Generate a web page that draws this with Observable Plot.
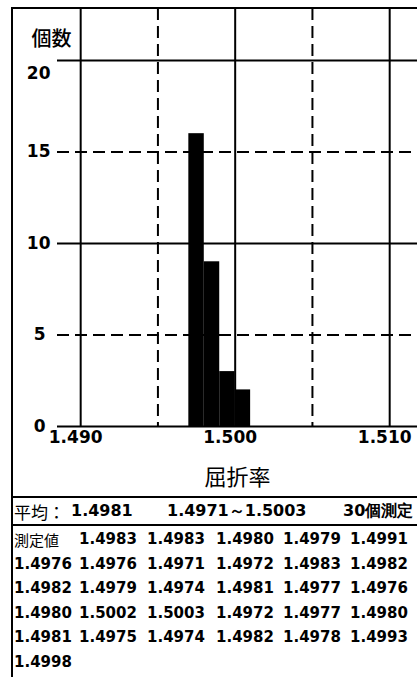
<!DOCTYPE html>
<html><head><meta charset="utf-8">
<script src="https://cdn.jsdelivr.net/npm/d3@7"></script>
<script src="https://cdn.jsdelivr.net/npm/@observablehq/plot@0.6"></script>
<style>
body{margin:0;background:#fff;}
#wrap{position:relative;width:417px;height:677px;overflow:hidden;background:#fff;}
#frame{position:absolute;left:11px;top:7px;width:430px;height:700px;border-left:2px solid #000;border-top:2px solid #000;}
#chart{position:absolute;left:0;top:0;}
.hline{position:absolute;left:12px;width:410px;height:2px;background:#000;}
.t{position:absolute;white-space:nowrap;line-height:1;color:#000;transform:translateY(-50%);}
.num{font-family:"DejaVu Sans";font-weight:bold;font-size:15px;}
.cjk{font-family:"Noto Sans CJK JP";font-size:15px;}
</style></head>
<body><div id="wrap"><div id="frame"></div><div id="chart"></div>
<div class="hline" style="top:496px"></div>
<div class="hline" style="top:524px"></div>
</div>
<script>
// ---- data ----
const yTicksLow = [0, 5];
const yTicksMid = [10, 15];
const yTickTop = [20];
const solidY = [0, 10, 20];
const dashedY = [5, 15];
const xTicks = [1.490, 1.500, 1.510];
const dashedX = [1.495, 1.505];
const binStart = [1.497, 1.498, 1.499, 1.500];
const binEnd = [1.498, 1.499, 1.500, 1.501];
const counts = [16, 9, 3, 2];
const yLabel = "個数";
const xLabel = "屈折率";
const meanLabel = "平均：";
const meanValue = "1.4981";
const rangeText = "1.4971～1.5003";
const countText = "30個測定";
const measuredLabel = "測定値";
const measured = [
  "1.4983","1.4983","1.4980","1.4979","1.4991",
  "1.4976","1.4976","1.4971","1.4972","1.4983","1.4982",
  "1.4982","1.4979","1.4974","1.4981","1.4977","1.4976",
  "1.4980","1.5002","1.5003","1.4972","1.4977","1.4980",
  "1.4981","1.4975","1.4974","1.4982","1.4978","1.4993",
  "1.4998"
];

const bars = counts.map((c, i) => ({x1: binStart[i], x2: binEnd[i], y: c}));
const dash = "12,6";

const chart = Plot.plot({
  width: 417, height: 500,
  marginLeft: 57, marginRight: 0, marginTop: 8, marginBottom: 74,
  x: {domain: [1.4885, 1.5118]},
  y: {domain: [0, 22.84]},
  style: {fontFamily: "DejaVu Sans", fontWeight: "bold", fontSize: "17px", color: "#000", background: "transparent", overflow: "visible"},
  marks: [
    Plot.ruleX(dashedX, {stroke: "#000", strokeWidth: 2, strokeDasharray: dash}),
    Plot.ruleY(dashedY, {stroke: "#000", strokeWidth: 2, strokeDasharray: dash}),
    Plot.ruleX(xTicks, {stroke: "#000", strokeWidth: 2}),
    Plot.ruleY(solidY, {stroke: "#000", strokeWidth: 2}),
    Plot.rectY(bars, {x1: "x1", x2: "x2", y: "y", fill: "#000", inset: 0}),
    Plot.axisX(xTicks, {tickSize: 0, tickPadding: 4, tickFormat: d3.format(".3f"), label: null, dx: -5, fontSize: 17}),
    Plot.axisY(yTicksLow, {tickSize: 0, tickPadding: 12, label: null, fontSize: 17}),
    Plot.axisY(yTicksMid, {tickSize: 0, tickPadding: 7, label: null, fontSize: 17}),
    Plot.axisY(yTickTop, {tickSize: 0, tickPadding: 7, label: null, fontSize: 17, dy: 13}),
    Plot.text([yLabel], {frameAnchor: "top-left", dx: -6, dy: 23, fontFamily: "Noto Sans CJK JP", fontWeight: 500, fontSize: 20, textAnchor: "middle"}),
    Plot.text([xLabel], {frameAnchor: "bottom", dy: 58, fontFamily: "Noto Sans CJK JP", fontWeight: "normal", fontSize: 22, textAnchor: "middle"})
  ]
});
document.getElementById("chart").appendChild(chart);

const wrap = document.getElementById("wrap");
function addText(txt, cls, left, top, extra) {
  const s = document.createElement("span");
  s.className = "t " + cls;
  s.textContent = txt;
  s.style.left = left + "px";
  s.style.top = top + "px";
  if (extra) Object.assign(s.style, extra);
  wrap.appendChild(s);
}
// summary row
addText(meanLabel, "cjk", 14, 511, {fontSize: "17px"});
addText(meanValue, "num", 71, 511, {fontSize: "16px"});
addText(rangeText, "num", 167, 511, {fontSize: "16px"});
addText(countText, "num", 343, 511, {fontSize: "16px"});
// measured values
const cols = [14, 79, 147, 216, 283, 350];
const rowTop = 539, rowStep = 24.6;
const cells = [measuredLabel, ...measured];
cells.forEach((v, i) => {
  const r = Math.floor(i / 6), c = i % 6;
  addText(v, i === 0 ? "cjk" : "num", cols[c], rowTop + r * rowStep);
});
</script>
</body></html>
